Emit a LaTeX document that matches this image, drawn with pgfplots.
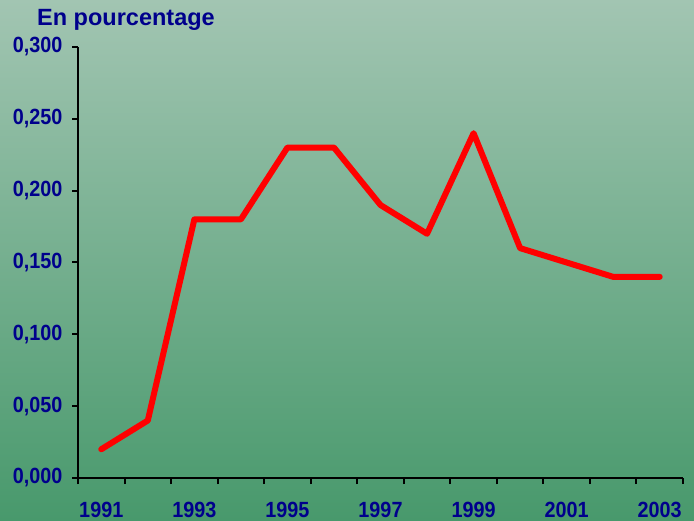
\documentclass[border=0pt]{standalone}
\usepackage{pgfplots}
\pgfplotsset{compat=1.18}
\usepackage{fontspec}
\setmainfont{Liberation Sans}
\newfontfamily\lblfont[FakeStretch=0.9]{Liberation Sans}
\definecolor{bgtop}{RGB}{162,197,178}
\definecolor{bgbot}{RGB}{72,153,108}
\definecolor{navy}{RGB}{0,0,140}
\begin{document}
\begin{tikzpicture}[x=1pt,y=1pt]
\shade[top color=bgtop, bottom color=bgbot] (0,0) rectangle (694,520);
\begin{axis}[
    at={(78pt,42pt)}, anchor=south west,
    scale only axis, width=605pt, height=431pt,
    xmin=1990.5, xmax=2003.5,
    ymin=0, ymax=0.3,
    axis x line*=bottom, axis y line*=left,
    axis line style={line width=2.5pt, black, -},
    xtick={1990.5,1991.5,...,2003.5},
    xticklabels={},
    extra x ticks={1991,1993,1995,1997,1999,2001,2003},
    extra x tick labels={1991,1993,1995,1997,1999,2001,2003},
    extra x tick style={tick style={draw=none}},
    ytick={0,0.05,...,0.3},
    major tick length=6pt,
    tick align=outside,
    tick style={line width=2pt, black},
    /pgf/number format/assume math mode=true,
    /pgf/number format/.cd, fixed, fixed zerofill, precision=3, use comma,
    /pgfplots/.cd,
    scaled y ticks=false,
    tick label style={font=\lblfont\fontsize{22}{25}\selectfont\bfseries, text=navy},
    xticklabel style={yshift=-15pt},
    yticklabel style={xshift=-6pt},
    clip=false,
]
\addplot[red, line width=6pt, line join=round, line cap=round] coordinates {
    (1991,0.020) (1992,0.040) (1993,0.180) (1994,0.180) (1995,0.230)
    (1996,0.230) (1997,0.190) (1998,0.170) (1999,0.240) (2000,0.160)
    (2001,0.150) (2002,0.140) (2003,0.140)
};
\end{axis}
\node[anchor=base west, inner sep=0, text=navy, font=\fontsize{23.5}{28}\selectfont\bfseries] at (37,494) {En pourcentage};
\pgfresetboundingbox
\path (0,0) rectangle (694,520);
\end{tikzpicture}
\end{document}
